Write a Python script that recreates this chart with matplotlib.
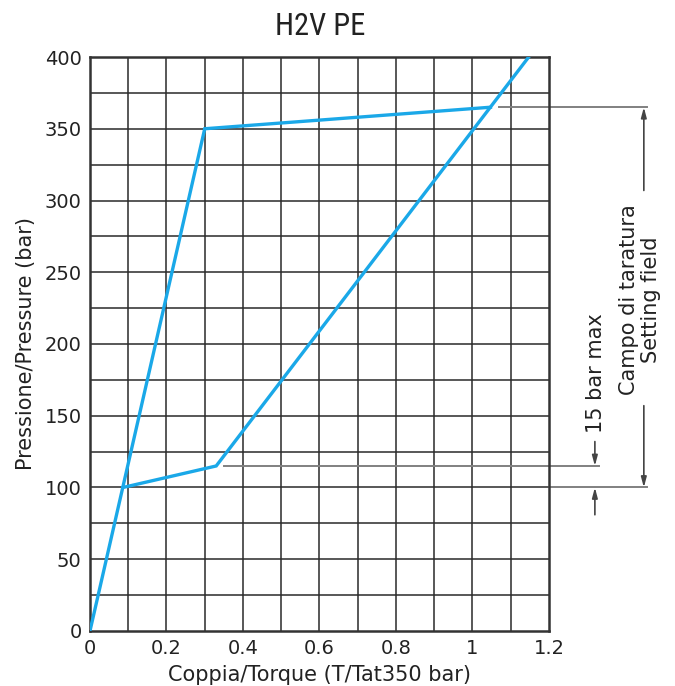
import matplotlib
matplotlib.use("Agg")
import matplotlib.pyplot as plt
from matplotlib import font_manager
import numpy as np

# data
curve1_x = [0.0, 0.30, 1.047]
curve1_y = [0, 350, 365]
curve2_x = [0.086, 0.33, 1.147]
curve2_y = [100, 115, 400]
xticks = [0, 0.2, 0.4, 0.6, 0.8, 1.0, 1.2]
xtick_labels = ["0", "0.2", "0.4", "0.6", "0.8", "1", "1.2"]
yticks = [0, 50, 100, 150, 200, 250, 300, 350, 400]
title = "H2V PE"
xlabel = "Coppia/Torque (T/Tat350 bar)"
ylabel = "Pressione/Pressure (bar)"
setting_low, setting_high = 100, 365
max15_low, max15_high = 100, 115

plt.rcParams['font.family'] = ['DejaVu Sans']
fig = plt.figure(figsize=(6.75, 6.86), dpi=100)
ax = fig.add_axes([0.1333, 0.0802, 0.68, 0.8367])
ax.set_xlim(0, 1.2)
ax.set_ylim(0, 400)

gridc = '#2a2a2a'
for xv in np.arange(0.1, 1.2, 0.1):
    ax.axvline(xv, color=gridc, lw=1.1, zorder=1)
for yv in np.arange(25, 400, 25):
    ax.axhline(yv, color=gridc, lw=1.1, zorder=1)

blue = '#1aa8e8'
ax.plot(curve1_x, curve1_y, color=blue, lw=2.4, zorder=3, solid_joinstyle='miter')
ax.plot(curve2_x, curve2_y, color=blue, lw=2.4, zorder=3, solid_joinstyle='miter')

for s in ax.spines.values():
    s.set_linewidth(1.8)
    s.set_color('#333333')

txtc = '#222222'
ax.set_xticks(xticks)
ax.set_xticklabels(xtick_labels)
ax.set_yticks(yticks)
ax.tick_params(length=0, labelsize=14, pad=6, colors=txtc)
ax.set_xlabel(xlabel, fontsize=15, labelpad=5, color=txtc)
ax.set_ylabel(ylabel, fontsize=15, labelpad=6, color=txtc)

# pick a condensed family for the title if one is installed
names = {f.name for f in font_manager.fontManager.ttflist}
cands = ['Liberation Sans Narrow', 'DejaVu Sans Condensed', 'Roboto Condensed',
         'Open Sans Condensed', 'Noto Sans Condensed']
fam = [c for c in cands if c in names]
if fam:
    fig.text(0.474, 0.962, title, ha='center', va='center', fontsize=22,
             family=[fam[0], 'DejaVu Sans'], color=txtc)
else:
    fig.text(0.474, 0.962, title, ha='center', va='center', fontsize=22,
             family=['DejaVu Sans'], stretch='condensed', color=txtc)

# dimension annotations
grey = '#808080'
kw = dict(color=grey, lw=1.4, clip_on=False, zorder=2)
ax.plot([1.07, 1.455], [setting_high, setting_high], **kw)
ax.plot([0.35, 1.33], [max15_high, max15_high], **kw)
ax.plot([1.2, 1.455], [setting_low, setting_low], **kw)

xa = 1.448
xb = 1.32
ap = dict(arrowstyle='-|>,head_length=0.6,head_width=0.16', color='#444444', lw=1.2,
          shrinkA=0, shrinkB=0)
ax.annotate('', xy=(xa, setting_high), xytext=(xa, 307), arrowprops=ap, annotation_clip=False)
ax.annotate('', xy=(xa, setting_low), xytext=(xa, 157), arrowprops=ap, annotation_clip=False)
ax.annotate('', xy=(xb, max15_high), xytext=(xb, 132), arrowprops=ap, annotation_clip=False)
ax.annotate('', xy=(xb, max15_low), xytext=(xb, 81), arrowprops=ap, annotation_clip=False)

ax.text(1.41, 231, "Campo di taratura", rotation=90, ha='center', va='center',
        fontsize=15, color=txtc, clip_on=False)
ax.text(1.468, 231, "Setting field", rotation=90, ha='center', va='center',
        fontsize=15, color=txtc, clip_on=False)
ax.text(1.322, 180, "15 bar max", rotation=90, ha='center', va='center',
        fontsize=15, color=txtc, clip_on=False)

fig.savefig("out.png", dpi=100)
